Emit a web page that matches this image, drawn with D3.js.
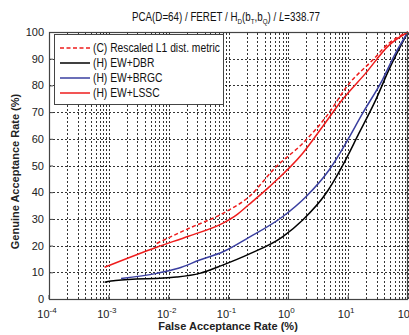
<!DOCTYPE html>
<html><head><meta charset="utf-8">
<script src="https://cdn.jsdelivr.net/npm/d3@7"></script>
<style>
body{margin:0;background:#fff;}
text{font-family:"Liberation Sans",Arial,sans-serif;}
</style></head>
<body>
<svg id="c" width="409" height="335"></svg>
<script>
// ---- data (FAR in %, GAR in %) ----
const seriesNames = ["(C) Rescaled L1 dist. metric","(H) EW+DBR","(H) EW+BRGC","(H) EW+LSSC"];
const seriesColors = ["#ee1c1c","#000000","#3a3fa0","#ee1c1c"];
const seriesDash = ["4,2.5",null,null,null];
const farL1   = [0.0063,0.022,0.081,0.22,0.63,1.74,4.3,10.5,25.7,47.9,100];
const garL1   = [20.8,26.5,32.1,38.3,49.6,58.3,68.3,80.8,89.5,95.8,100];
const farDBR  = [0.00085,0.0013,0.0135,0.033,0.08,0.22,0.8,1.74,4.27,7.9,15.1,28.8,47.9,100];
const garDBR  = [6.3,6.9,8.2,9.6,12.7,16.8,23.3,29.6,39.6,49.6,62,74.5,85.8,100];
const farBRGC = [0.0016,0.0063,0.0145,0.033,0.081,0.22,0.8,1.97,4.8,9.1,17.4,37.2,61.7,100];
const garBRGC = [7.7,9.6,11.5,14.6,17.7,23.1,30.8,38.3,48.3,58.3,69.5,82,92,100];
const farLSSC = [0.00085,0.0063,0.022,0.081,0.135,0.22,0.48,1.74,3.72,7.9,19.5,47.9,100];
const garLSSC = [11.9,19.4,23.6,28.4,31.4,35.4,42,54.6,64.5,74.5,84.5,95,100];
const xTickExp = [-4,-3,-2,-1,0,1,2];
const yTicks = [0,10,20,30,40,50,60,70,80,90,100];

const seriesFar = [farL1,farDBR,farBRGC,farLSSC];
const seriesGar = [garL1,garDBR,garBRGC,garLSSC];

const svg = d3.select("#c");
const m = {l:49, r:1, t:32, b:36};
const W = 409, H = 335;
const x = d3.scaleLog().domain([1e-4,100]).range([m.l, W-m.r]);
const y = d3.scaleLinear().domain([0,100]).range([H-m.b, m.t]);

// grid
const g = svg.append("g");
const minor = [];
for (let e=-4;e<2;e++) for (let k=1;k<=9;k++) minor.push(k*Math.pow(10,e));
minor.push(100);
g.selectAll("line.vx").data(minor).join("line")
  .attr("x1",d=>Math.round(x(d))+0.5).attr("x2",d=>Math.round(x(d))+0.5)
  .attr("y1",y(0)).attr("y2",y(100))
  .attr("stroke","#000").attr("stroke-width",0.8).attr("stroke-dasharray","2,2");
g.selectAll("line.hy").data(yTicks).join("line")
  .attr("y1",d=>Math.round(y(d))+0.5).attr("y2",d=>Math.round(y(d))+0.5)
  .attr("x1",x(1e-4)).attr("x2",x(100))
  .attr("stroke","#000").attr("stroke-width",0.8).attr("stroke-dasharray","2,2");

// curves
const line = d3.line().x(d=>x(d[0])).y(d=>y(d[1])).curve(d3.curveMonotoneX);
const order = [1,2,3,0];
order.forEach(i=>{
  const pts = seriesFar[i].map((f,j)=>[f,seriesGar[i][j]]);
  svg.append("path").datum(pts).attr("d",line)
    .attr("fill","none").attr("stroke",seriesColors[i]).attr("stroke-width",1.5)
    .attr("stroke-dasharray",seriesDash[i]);
});

// axes frame
svg.append("rect").attr("x",m.l+0.5).attr("y",m.t+0.5)
  .attr("width",W-m.r-m.l-1).attr("height",H-m.b-m.t)
  .attr("fill","none").attr("stroke","#444").attr("stroke-width",1.2);

// y axis
const ya = svg.append("g").attr("transform",`translate(${m.l},0)`)
  .call(d3.axisLeft(y).tickValues(yTicks).tickSize(-4).tickPadding(5));
ya.select(".domain").remove();
ya.selectAll("line").attr("stroke","#444");
ya.selectAll("text").attr("font-size",11).attr("fill","#222")
  .style("font-family","'Liberation Sans',Arial,sans-serif")
  .attr("transform",function(){ return null; });

// x axis labels
const xl = svg.append("g");
xTickExp.forEach(e=>{
  const px = x(Math.pow(10,e));
  const t = xl.append("text").attr("x",px-2).attr("y",H-m.b+19).attr("text-anchor","middle")
    .attr("font-size",11).attr("fill","#222");
  t.append("tspan").text("10");
  t.append("tspan").attr("dy",-5).attr("font-size",8).text(e);
});
svg.append("g").selectAll("line").data(xTickExp).join("line")
  .attr("x1",e=>x(Math.pow(10,e))).attr("x2",e=>x(Math.pow(10,e)))
  .attr("y1",y(0)).attr("y2",y(0)-4).attr("stroke","#444");

// legend
const lg = svg.append("g");
lg.append("rect").attr("x",54.5).attr("y",34.5).attr("width",169).attr("height",70)
  .attr("fill","#fff").attr("stroke","#444").attr("stroke-width",1);
const legTexts = [];
seriesNames.forEach((n,i)=>{
  const yy = 48 + i*15;
  lg.append("line").attr("x1",60).attr("x2",90).attr("y1",yy).attr("y2",yy)
    .attr("stroke",seriesColors[i]).attr("stroke-width",1.5).attr("stroke-dasharray",seriesDash[i]);
  legTexts.push(lg.append("text").attr("x",93).attr("y",yy+4).attr("font-size",12.5).attr("fill","#111").text(n));
});
const sx = 127 / legTexts[0].node().getComputedTextLength();
legTexts.forEach(t=>{
  t.attr("transform",`translate(93,0) scale(${sx},1) translate(-93,0)`);
});

// title
const tt = svg.append("text").attr("x",226).attr("y",21).attr("text-anchor","middle")
  .attr("font-size",12.5).attr("fill","#111");
tt.append("tspan").text("PCA(D=64) / FERET / H");
tt.append("tspan").attr("dy",3).attr("font-size",8).text("D");
tt.append("tspan").attr("dy",-3).text("(b");
tt.append("tspan").attr("dy",3).attr("font-size",8).text("T");
tt.append("tspan").attr("dy",-3).text(",b");
tt.append("tspan").attr("dy",3).attr("font-size",8).text("Q");
tt.append("tspan").attr("dy",-3).text(") / ");
tt.append("tspan").attr("font-style","italic").text("L");
tt.append("tspan").text("=338.77");
const tw = tt.node().getComputedTextLength();
const tsx = 188 / tw;
tt.attr("transform",`translate(226,0) scale(${tsx},1) translate(-226,0)`);

// axis titles
svg.append("text").attr("x",228).attr("y",330).attr("text-anchor","middle")
  .attr("font-size",11).attr("font-weight","bold").attr("fill","#222").text("False Acceptance Rate (%)");
svg.append("text").attr("transform",`translate(19,${(m.t+H-m.b)/2 + 6}) rotate(-90)`).attr("text-anchor","middle")
  .attr("font-size",11).attr("font-weight","bold").attr("fill","#222").text("Genuine Acceptance Rate (%)");
</script>
</body></html>
